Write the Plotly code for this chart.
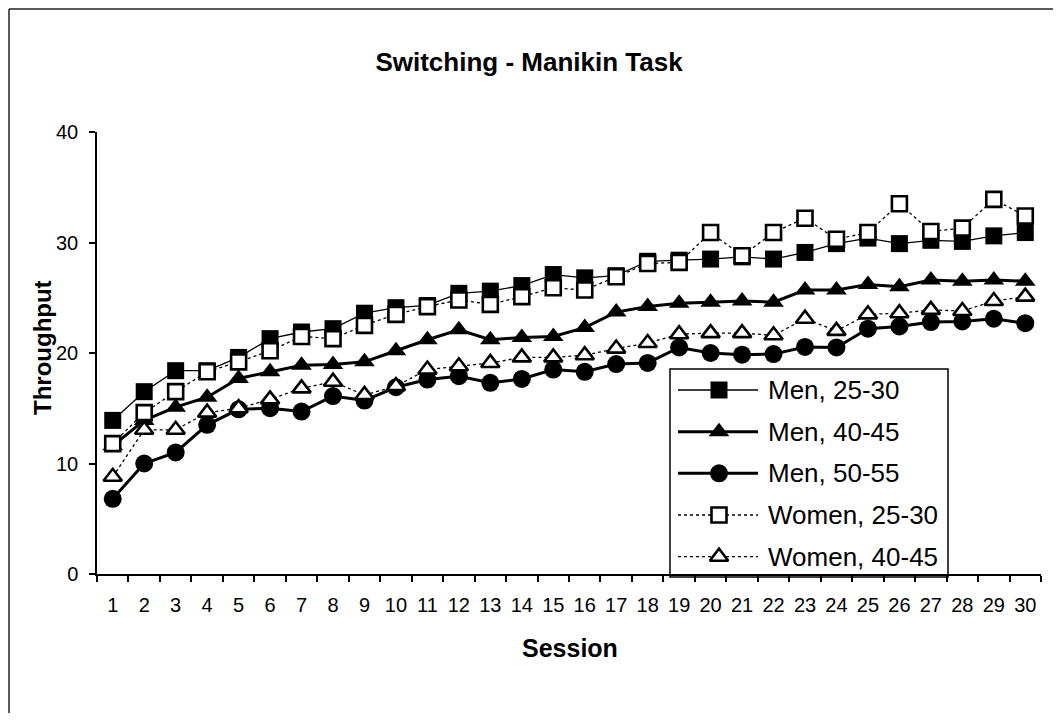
import plotly.graph_objects as go

# ---------------- data ----------------
sessions = list(range(1, 31))

men_25_30 = [13.9, 16.5, 18.4, 18.4, 19.6, 21.3, 21.9, 22.2, 23.6, 24.1,
             24.3, 25.4, 25.6, 26.1, 27.1, 26.8, 27.0, 28.3, 28.4, 28.5,
             28.7, 28.5, 29.1, 29.9, 30.4, 29.9, 30.2, 30.1, 30.6, 30.9]
men_40_45 = [11.6, 13.9, 15.1, 16.0, 17.7, 18.3, 18.9, 18.95, 19.2, 20.2,
             21.2, 22.1, 21.2, 21.4, 21.5, 22.3, 23.7, 24.2, 24.5, 24.6,
             24.7, 24.6, 25.7, 25.7, 26.2, 26.0, 26.6, 26.5, 26.6, 26.5]
men_50_55 = [6.8, 10.0, 11.0, 13.5, 14.9, 15.0, 14.7, 16.1, 15.7, 16.9,
             17.6, 17.9, 17.3, 17.65, 18.5, 18.3, 19.0, 19.1, 20.5, 20.0,
             19.85, 19.9, 20.55, 20.5, 22.2, 22.4, 22.8, 22.85, 23.1, 22.7]
women_25_30 = [11.8, 14.6, 16.5, 18.3, 19.2, 20.2, 21.5, 21.3, 22.5, 23.5,
               24.2, 24.8, 24.4, 25.1, 25.9, 25.7, 26.9, 28.1, 28.2, 30.9,
               28.8, 30.9, 32.2, 30.3, 30.9, 33.5, 31.0, 31.3, 33.9, 32.4]
women_40_45 = [8.8, 13.05, 13.05, 14.6, 15.0, 15.8, 16.8, 17.4, 16.2, 17.0,
               18.5, 18.8, 19.1, 19.6, 19.6, 19.8, 20.4, 20.9, 21.7, 21.8,
               21.8, 21.6, 23.1, 22.0, 23.5, 23.6, 23.9, 23.8, 24.7, 25.1]

series_names = ["Men, 25-30", "Men, 40-45", "Men, 50-55", "Women, 25-30", "Women, 40-45"]
series_values = [men_25_30, men_40_45, men_50_55, women_25_30, women_40_45]

y_ticks = [0, 10, 20, 30, 40]
title_text = "Switching - Manikin Task"
x_title = "Session"
y_title = "Throughput"

# ---------------- geometry (page pixels; body has an 8px margin) ----------------
OFF = 8
W, H = 1061 - 2 * OFF, 721 - 2 * OFF
PLOT_L, PLOT_R, PLOT_T, PLOT_B = 97, 1041, 132, 574   # page pixel coords
L = PLOT_L - OFF
T = PLOT_T - OFF
R = W - (PLOT_R - OFF)
B = H - (PLOT_B - OFF)
PW = PLOT_R - PLOT_L
PH = PLOT_B - PLOT_T


def fx(px):
    return (px - PLOT_L) / PW


def fy(py):
    return (PLOT_B - py) / PH


FONT = "Liberation Sans, Arial, Helvetica, sans-serif"

styles = [
    dict(line=dict(color="black", width=1.3),
         marker=dict(symbol="square", size=17, color="black")),
    dict(line=dict(color="black", width=3),
         marker=dict(symbol="triangle-up", size=18, color="black")),
    dict(line=dict(color="black", width=3),
         marker=dict(symbol="circle", size=18, color="black")),
    dict(line=dict(color="black", width=1.3, dash="3px,3px"),
         marker=dict(symbol="square", size=15, color="white",
                     line=dict(color="black", width=2.6))),
    dict(line=dict(color="black", width=1.3, dash="3px,3px"),
         marker=dict(symbol="triangle-up", size=16, color="white",
                     line=dict(color="black", width=2.6))),
]

fig = go.Figure()

for name, vals, st in zip(series_names, series_values, styles):
    fig.add_trace(go.Scatter(
        x=sessions, y=vals, name=name, mode="lines+markers",
        line=st["line"], marker=st["marker"], showlegend=False,
        xaxis="x", yaxis="y",
    ))

# ---------------- custom legend (inset, page-pixel coordinates) ----------------
box_l, box_r, box_t, box_b = 670, 948, 369, 577
rows = [390, 431.7, 473.3, 515, 556.7]
for name, st, ry in zip(series_names, styles, rows):
    fig.add_trace(go.Scatter(
        x=[678, 719, 758], y=[ry, ry, ry], mode="lines+markers",
        line=st["line"],
        marker=dict(st["marker"], opacity=[0, 1, 0]),
        showlegend=False, hoverinfo="skip",
        xaxis="x3", yaxis="y3",
    ))

annotations = []
for name, ry in zip(series_names, rows):
    annotations.append(dict(
        text=name, x=766, y=ry, xref="x3", yref="y3",
        xanchor="left", yanchor="middle", showarrow=False,
        font=dict(family=FONT, size=26, color="black"),
    ))

annotations.append(dict(
    text="<b>%s</b>" % y_title, x=fx(42), y=fy(348), xref="paper", yref="paper",
    textangle=-90, showarrow=False, xanchor="center", yanchor="middle",
    font=dict(family=FONT, size=24, color="black"),
))
annotations.append(dict(
    text="<b>%s</b>" % x_title, x=fx(569.5), y=fy(648), xref="paper", yref="paper",
    showarrow=False, xanchor="center", yanchor="middle",
    font=dict(family=FONT, size=25, color="black"),
))

bounds = [s - 0.5 for s in sessions] + [sessions[-1] + 0.5]
x_range = [sessions[0] - 0.5, sessions[-1] + 0.5]

shapes = [
    # legend frame
    dict(type="rect", xref="paper", yref="paper",
         x0=fx(box_l), x1=fx(box_r), y0=fy(box_b), y1=fy(box_t),
         line=dict(color="black", width=1.5), fillcolor="rgba(0,0,0,0)", layer="above"),
    # page frame (left and top edges)
    dict(type="line", xref="paper", yref="paper",
         x0=fx(OFF + 1), x1=fx(OFF + 1), y0=fy(OFF + 1), y1=fy(716),
         line=dict(color="#222222", width=1.5), layer="below"),
    dict(type="line", xref="paper", yref="paper",
         x0=fx(OFF + 1), x1=fx(1075), y0=fy(OFF + 1), y1=fy(OFF + 1),
         line=dict(color="#222222", width=1.5), layer="below"),
]

axis_common = dict(showgrid=False, zeroline=False)

fig.update_layout(
    width=W, height=H,
    margin=dict(l=L, r=R, t=T, b=B, pad=0),
    paper_bgcolor="white", plot_bgcolor="white",
    font=dict(family=FONT, color="black"),
    title=dict(text="<b>%s</b>" % title_text, x=(529 - OFF) / W, xanchor="center",
               y=1 - (62 - OFF) / H, yanchor="middle", xref="container", yref="container",
               font=dict(family=FONT, size=26, color="black")),
    xaxis=dict(range=x_range, tickmode="array", tickvals=sessions,
               ticktext=[str(s) for s in sessions], ticks="",
               showline=True, linecolor="black", linewidth=1.5,
               tickfont=dict(family=FONT, size=20, color="black"),
               ticklabelstandoff=12,
               minor=dict(tickmode="array", tickvals=bounds, ticks="outside",
                          ticklen=6, tickwidth=1.5, tickcolor="black"),
               **axis_common),
    xaxis2=dict(range=x_range, overlaying="x", anchor="y", side="bottom",
                tickmode="array", tickvals=bounds, ticks="inside", ticklen=6,
                tickwidth=1.5, tickcolor="black", showticklabels=False,
                showline=False, **axis_common),
    yaxis=dict(range=[y_ticks[0], y_ticks[-1]], tickmode="array", tickvals=y_ticks,
               ticks="outside", ticklen=6, tickwidth=1.5, tickcolor="black",
               showline=True, linecolor="black", linewidth=1.5,
               tickfont=dict(family=FONT, size=20, color="black"),
               ticklabelstandoff=7, **axis_common),
    yaxis2=dict(range=[y_ticks[0], y_ticks[-1]], overlaying="y", anchor="x",
                tickmode="array", tickvals=y_ticks, ticks="inside", ticklen=6,
                tickwidth=1.5, tickcolor="black", showticklabels=False,
                showline=False, **axis_common),
    xaxis3=dict(domain=[fx(box_l), fx(box_r)], range=[box_l, box_r], anchor="y3",
                visible=False, **axis_common),
    yaxis3=dict(domain=[0, fy(box_t)], range=[PLOT_B, box_t], anchor="x3",
                visible=False, **axis_common),
    annotations=annotations,
    shapes=shapes,
)

fig.write_html("out.html")
